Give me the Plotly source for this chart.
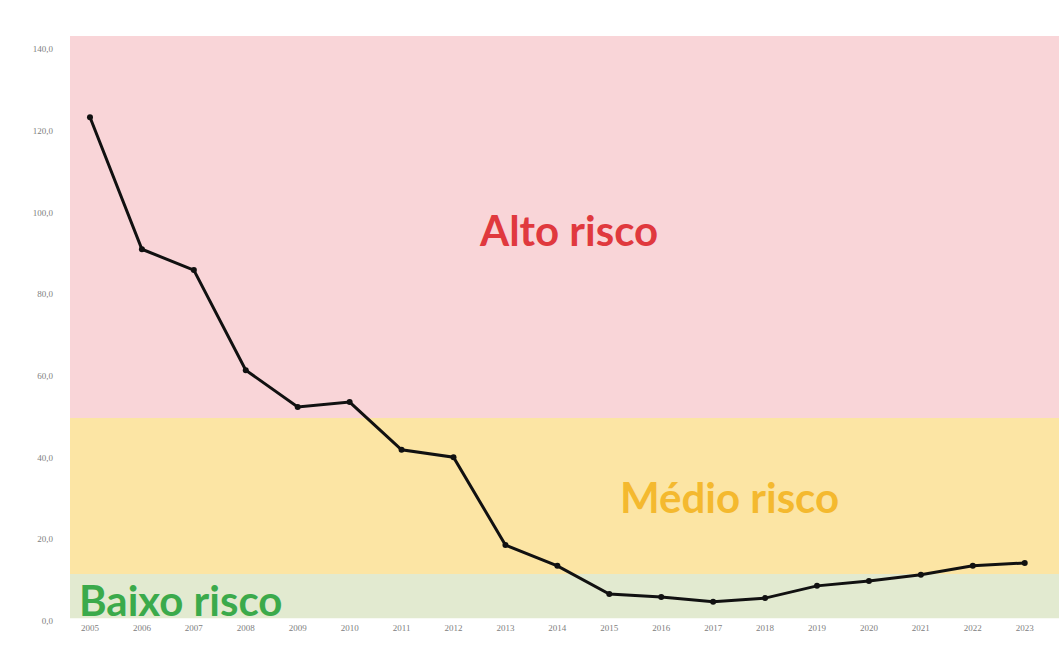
import plotly.graph_objects as go

years = list(range(2005, 2024))
values = [123.3, 91.0, 85.9, 61.4, 52.4, 53.6, 41.9, 40.1, 18.6, 13.5,
          6.6, 5.9, 4.7, 5.6, 8.6, 9.8, 11.3, 13.5, 14.2]

y_ticks = [0, 20, 40, 60, 80, 100, 120, 140]
y_tick_labels = ["0,0", "20,0", "40,0", "60,0", "80,0", "100,0", "120,0", "140,0"]

bands = [
    ("Baixo risco", 0.7, 11.5, "#E2EAD0", "#3BAA4B"),
    ("Médio risco", 11.5, 49.7, "#FCE5A4", "#F4B92F"),
    ("Alto risco", 49.7, 143.2, "#F9D5D8", "#E0393E"),
]
label_pos = {"Alto risco": (2014.22, 95.7), "Médio risco": (2017.32, 30.3), "Baixo risco": (2006.75, 5.1)}

fig = go.Figure()
fig.add_trace(go.Scatter(
    x=years, y=values, mode="lines+markers",
    line=dict(color="#111111", width=3),
    marker=dict(color="#111111", size=6),
    showlegend=False, hoverinfo="skip",
))

shapes = []
annotations = []
for name, lo, hi, fill, tcol in bands:
    shapes.append(dict(type="rect", xref="paper", yref="y", x0=0, x1=1, y0=lo, y1=hi,
                       fillcolor=fill, line=dict(width=0), layer="below"))
    lx, ly = label_pos[name]
    annotations.append(dict(x=lx, y=ly, xref="x", yref="y", text="<b>" + name + "</b>",
                            showarrow=False, font=dict(family="Lato", size=42, color=tcol)))

fig.update_layout(
    width=1059, height=648,
    margin=dict(l=70, r=0, t=36, b=27),
    paper_bgcolor="white", plot_bgcolor="white",
    shapes=shapes, annotations=annotations,
    xaxis=dict(range=[2004.615, 2023.66], tickvals=years, ticktext=[str(y) for y in years],
               showgrid=False, zeroline=False, showline=False, ticks="",
               tickfont=dict(family="Liberation Serif", size=9, color="#808080")),
    yaxis=dict(range=[0, 143.2], tickvals=y_ticks, ticktext=y_tick_labels,
               showgrid=False, zeroline=False, showline=False, ticks="",
               ticklabelstandoff=16,
               tickfont=dict(family="Liberation Serif", size=9, color="#808080")),
)

fig.write_html(
    "out.html",
    config={"displayModeBar": False},
    post_script="document.body.style.margin='0';document.documentElement.style.overflow='hidden';",
)
